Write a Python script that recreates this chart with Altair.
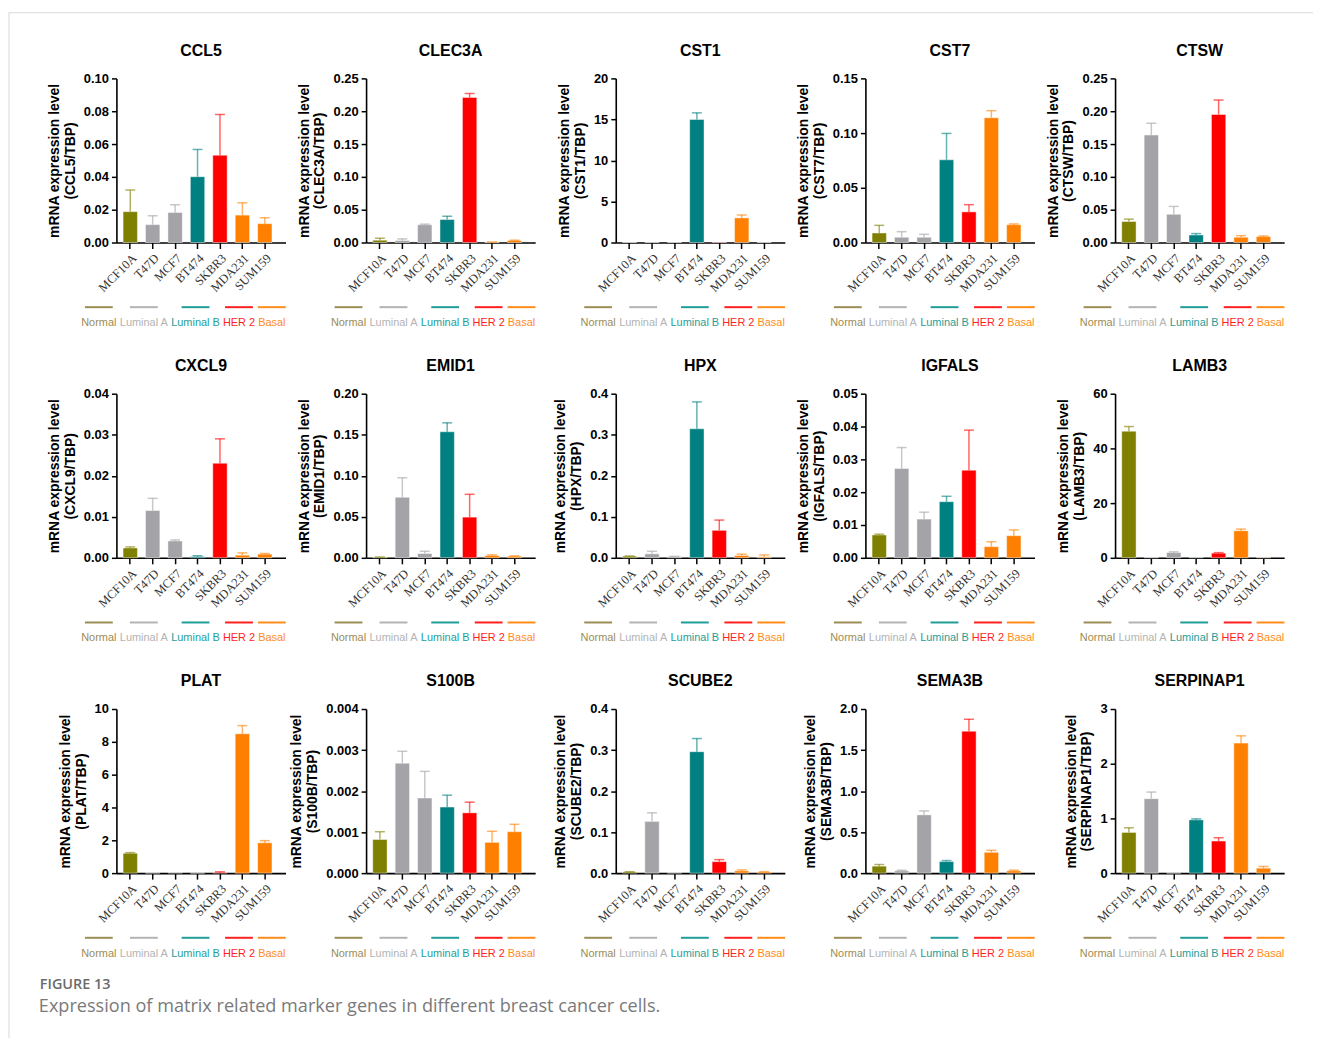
import altair as alt
import pandas as pd

# ---------------- data ----------------
cells = ["MCF10A", "T47D", "MCF7", "BT474", "SKBR3", "MDA231", "SUM159"]
cell_groups = ["Normal", "Luminal A", "Luminal A", "Luminal B", "HER 2", "Basal", "Basal"]
groups = ["Normal", "Luminal A", "Luminal B", "HER 2", "Basal"]
bar_colors = ["#7f7f00", "#a3a3a8", "#008080", "#ff0000", "#ff8000"]
label_colors = ["#9c8d55", "#b3b3b3", "#1f9e99", "#ff1f1f", "#ff8c1a"]

genes = ["CCL5", "CLEC3A", "CST1", "CST7", "CTSW",
         "CXCL9", "EMID1", "HPX", "IGFALS", "LAMB3",
         "PLAT", "S100B", "SCUBE2", "SEMA3B", "SERPINAP1"]

ccl5_mean = [0.0188, 0.0109, 0.0183, 0.0401, 0.0532, 0.0167, 0.0115]
ccl5_top = [0.0320, 0.0163, 0.0230, 0.0567, 0.0780, 0.0242, 0.0151]
clec3a_mean = [0.0035, 0.0030, 0.0270, 0.0350, 0.2210, 0.0005, 0.0030]
clec3a_top = [0.0065, 0.0055, 0.0280, 0.0400, 0.2270, 0.0008, 0.0035]
cst1_mean = [0.0, 0.0, 0.0, 15.0, 0.05, 3.0, 0.0]
cst1_top = [0.0, 0.0, 0.0, 15.8, 0.05, 3.35, 0.0]
cst7_mean = [0.0087, 0.0048, 0.0048, 0.0756, 0.0280, 0.1140, 0.0163]
cst7_top = [0.0157, 0.0099, 0.0075, 0.0997, 0.0346, 0.1205, 0.0170]
ctsw_mean = [0.0320, 0.1637, 0.0430, 0.0115, 0.1950, 0.0080, 0.0090]
ctsw_top = [0.0356, 0.1817, 0.0550, 0.0136, 0.2170, 0.0105, 0.0100]
cxcl9_mean = [0.0024, 0.01153, 0.0041, 0.0003, 0.02306, 0.00065, 0.0009]
cxcl9_top = [0.00266, 0.0145, 0.00435, 0.0005, 0.0290, 0.0012, 0.00105]
emid1_mean = [0.0008, 0.0738, 0.0052, 0.1536, 0.0496, 0.0028, 0.0020]
emid1_top = [0.0010, 0.0976, 0.0080, 0.1645, 0.0774, 0.0036, 0.0024]
hpx_mean = [0.0040, 0.0097, 0.0030, 0.3145, 0.0670, 0.0056, 0.0024]
hpx_top = [0.0045, 0.0160, 0.0035, 0.3800, 0.0920, 0.0089, 0.0070]
igfals_mean = [0.00696, 0.0272, 0.0118, 0.0171, 0.0267, 0.0034, 0.00675]
igfals_top = [0.0072, 0.0336, 0.0139, 0.01875, 0.0389, 0.0049, 0.0085]
lamb3_mean = [46.3, 0.1, 1.9, 0.1, 1.7, 9.9, 0.1]
lamb3_top = [48.0, 0.1, 2.2, 0.1, 1.9, 10.5, 0.1]
plat_mean = [1.21, 0.02, 0.04, 0.0, 0.04, 8.49, 1.85]
plat_top = [1.25, 0.02, 0.04, 0.0, 0.08, 8.99, 1.98]
s100b_mean = [0.00082, 0.00268, 0.00183, 0.00161, 0.00147, 0.00075, 0.00101]
s100b_top = [0.00101, 0.00297, 0.00248, 0.00190, 0.00173, 0.00102, 0.00119]
scube2_mean = [0.003, 0.126, 0.001, 0.296, 0.028, 0.0056, 0.003]
scube2_top = [0.0035, 0.147, 0.001, 0.328, 0.033, 0.008, 0.0035]
sema3b_mean = [0.085, 0.028, 0.710, 0.141, 1.730, 0.254, 0.028]
sema3b_top = [0.105, 0.036, 0.758, 0.153, 1.875, 0.278, 0.036]
serpinap1_mean = [0.744, 1.361, 0.0, 0.974, 0.587, 2.377, 0.091]
serpinap1_top = [0.829, 1.482, 0.0, 0.992, 0.647, 2.510, 0.121]

means = [ccl5_mean, clec3a_mean, cst1_mean, cst7_mean, ctsw_mean,
         cxcl9_mean, emid1_mean, hpx_mean, igfals_mean, lamb3_mean,
         plat_mean, s100b_mean, scube2_mean, sema3b_mean, serpinap1_mean]
tops = [ccl5_top, clec3a_top, cst1_top, cst7_top, ctsw_top,
        cxcl9_top, emid1_top, hpx_top, igfals_top, lamb3_top,
        plat_top, s100b_top, scube2_top, sema3b_top, serpinap1_top]

# y-axis tick labels per panel
y_ticks = [
    ["0.00", "0.02", "0.04", "0.06", "0.08", "0.10"],
    ["0.00", "0.05", "0.10", "0.15", "0.20", "0.25"],
    ["0", "5", "10", "15", "20"],
    ["0.00", "0.05", "0.10", "0.15"],
    ["0.00", "0.05", "0.10", "0.15", "0.20", "0.25"],
    ["0.00", "0.01", "0.02", "0.03", "0.04"],
    ["0.00", "0.05", "0.10", "0.15", "0.20"],
    ["0.0", "0.1", "0.2", "0.3", "0.4"],
    ["0.00", "0.01", "0.02", "0.03", "0.04", "0.05"],
    ["0", "20", "40", "60"],
    ["0", "2", "4", "6", "8", "10"],
    ["0.000", "0.001", "0.002", "0.003", "0.004"],
    ["0.0", "0.1", "0.2", "0.3", "0.4"],
    ["0.0", "0.5", "1.0", "1.5", "2.0"],
    ["0", "1", "2", "3"],
]

caption_head = "FIGURE 13"
caption_text = "Expression of matrix related marker genes in different breast cancer cells."

# ---------------- layout / style ----------------
W, H = 170, 165
COL_GAP, ROW_GAP = 81, 152
SANS = "Liberation Sans"

# Arial / Liberation Sans advance widths (per 1000 em) for group labels
AW = {"N": 722, "o": 556, "r": 333, "m": 833, "a": 556, "l": 222, " ": 278,
      "L": 556, "u": 556, "i": 222, "n": 556, "A": 667, "B": 667, "H": 722,
      "E": 667, "R": 722, "2": 556, "s": 500}
GFS = 11


def tw(s, size=GFS):
    return sum(AW.get(c, 556) for c in s) * size / 1000.0


def group_table():
    total = tw(" ".join(groups))
    pos = W - total
    rows = []
    for g, c in zip(groups, label_colors):
        w = tw(g)
        cx = pos + w / 2
        rows.append({"g": g, "col": c, "cx": cx, "l1": cx - 14, "l2": cx + 14})
        pos += w + tw(" ")
    return pd.DataFrame(rows)


gdf = group_table()


def panel(i):
    gene = genes[i]
    ticks = [float(t) for t in y_ticks[i]]
    fmt_dec = len(y_ticks[i][0].split(".")[1]) if "." in y_ticks[i][0] else 0
    df = pd.DataFrame({"cell": cells, "group": cell_groups,
                       "mean": means[i], "top": tops[i]})
    color = alt.Color("group:N", scale=alt.Scale(domain=groups, range=bar_colors), legend=None)
    xscale = alt.Scale(domain=cells, paddingInner=0.36, paddingOuter=0.45, align=0.33)
    yscale = alt.Scale(domain=[0, ticks[-1]], nice=False, zero=True)
    xaxis = alt.Axis(title=None, labelAngle=-45, labelFont="Liberation Serif",
                     labelFontSize=12.5, labelColor="#333333", tickSize=6, tickWidth=1.5,
                     tickColor="black", domainColor="black", domainWidth=1.6,
                     labelPadding=3, grid=False, labelOverlap=False)
    yaxis = alt.Axis(title=["mRNA expression level", f"({gene}/TBP)"], values=ticks,
                     tickCount=len(ticks), format=f".{fmt_dec}f", labelFont=SANS,
                     labelFontSize=13, labelFontWeight="bold", labelColor="black",
                     tickSize=5, tickWidth=1.5, tickColor="black", domainColor="black",
                     domainWidth=1.6, labelPadding=3, grid=False, titleFont=SANS,
                     titleFontSize=14, titleFontWeight="bold", titleColor="black",
                     titleLineHeight=16, titlePadding=6, labelOverlap=False)
    base = alt.Chart(df)
    bars = base.mark_bar(stroke="white", strokeWidth=1, strokeOpacity=0.45).encode(
        x=alt.X("cell:N", sort=cells, scale=xscale, axis=xaxis),
        y=alt.Y("mean:Q", scale=yscale, axis=yaxis),
        color=color,
    )
    errdf = base.transform_filter("datum.top > datum.mean")
    err = errdf.mark_rule(strokeWidth=1.5, opacity=0.6).encode(
        x=alt.X("cell:N", sort=cells), y="mean:Q", y2="top:Q", color=color)
    cap = errdf.mark_tick(size=10, thickness=1.5, opacity=0.6).encode(
        x=alt.X("cell:N", sort=cells), y="top:Q", color=color)
    data_layer = alt.layer(bars, err, cap)

    gbase = alt.Chart(gdf)
    glines = gbase.mark_rule(strokeWidth=2).encode(
        x=alt.X("l1:Q", scale=None, axis=None), x2="l2:Q",
        y=alt.value(H + 65), color=alt.Color("col:N", scale=None))
    gtext = gbase.mark_text(font=SANS, fontSize=GFS, baseline="middle", align="center").encode(
        x=alt.X("cx:Q", scale=None, axis=None), y=alt.value(H + 81),
        text="g:N", color=alt.Color("col:N", scale=None))
    return alt.layer(data_layer, glines, gtext).resolve_scale(
        x="independent", color="independent").properties(
        width=W, height=H,
        title=alt.TitleParams(gene, font=SANS, fontSize=16, fontWeight="bold",
                              color="black", offset=14, anchor="middle"))


def caption_cell():
    # caption text and the thin page frame, placed in a 16th grid cell whose
    # origin is 3 rows below the first plot area
    base = alt.Chart(pd.DataFrame({"k": [0]}))
    y0 = 3 * (H + ROW_GAP)
    head = base.mark_text(font="Open Sans", fontSize=14.5, fontWeight=600, color="#6b6b6b",
                          align="left", baseline="middle", text=caption_head).encode(
        x=alt.value(-77), y=alt.value(911 - y0))
    body = base.mark_text(font="Open Sans", fontSize=18.2, color="#7a7a7a",
                          align="left", baseline="middle", text=caption_text).encode(
        x=alt.value(-78), y=alt.value(934 - y0))
    hline = base.mark_rule(color="#d9d9d9", strokeWidth=1).encode(
        x=alt.value(-108), x2=alt.value(1203), y=alt.value(-66 - y0))
    vline = base.mark_rule(color="#d9d9d9", strokeWidth=1).encode(
        x=alt.value(-108), y=alt.value(-66 - y0), y2=alt.value(965 - y0))
    return alt.layer(head, body, hline, vline).properties(width=W, height=1)


cells_all = [panel(i) for i in range(len(genes))] + [caption_cell()]

chart = alt.concat(*cells_all, columns=5, spacing={"row": ROW_GAP, "column": COL_GAP},
                   bounds="flush").properties(
    padding={"left": 0, "top": 1, "right": 0, "bottom": 0},
).configure_view(stroke=None)

chart.save("out.html", embed_options={"renderer": "svg", "actions": False})
